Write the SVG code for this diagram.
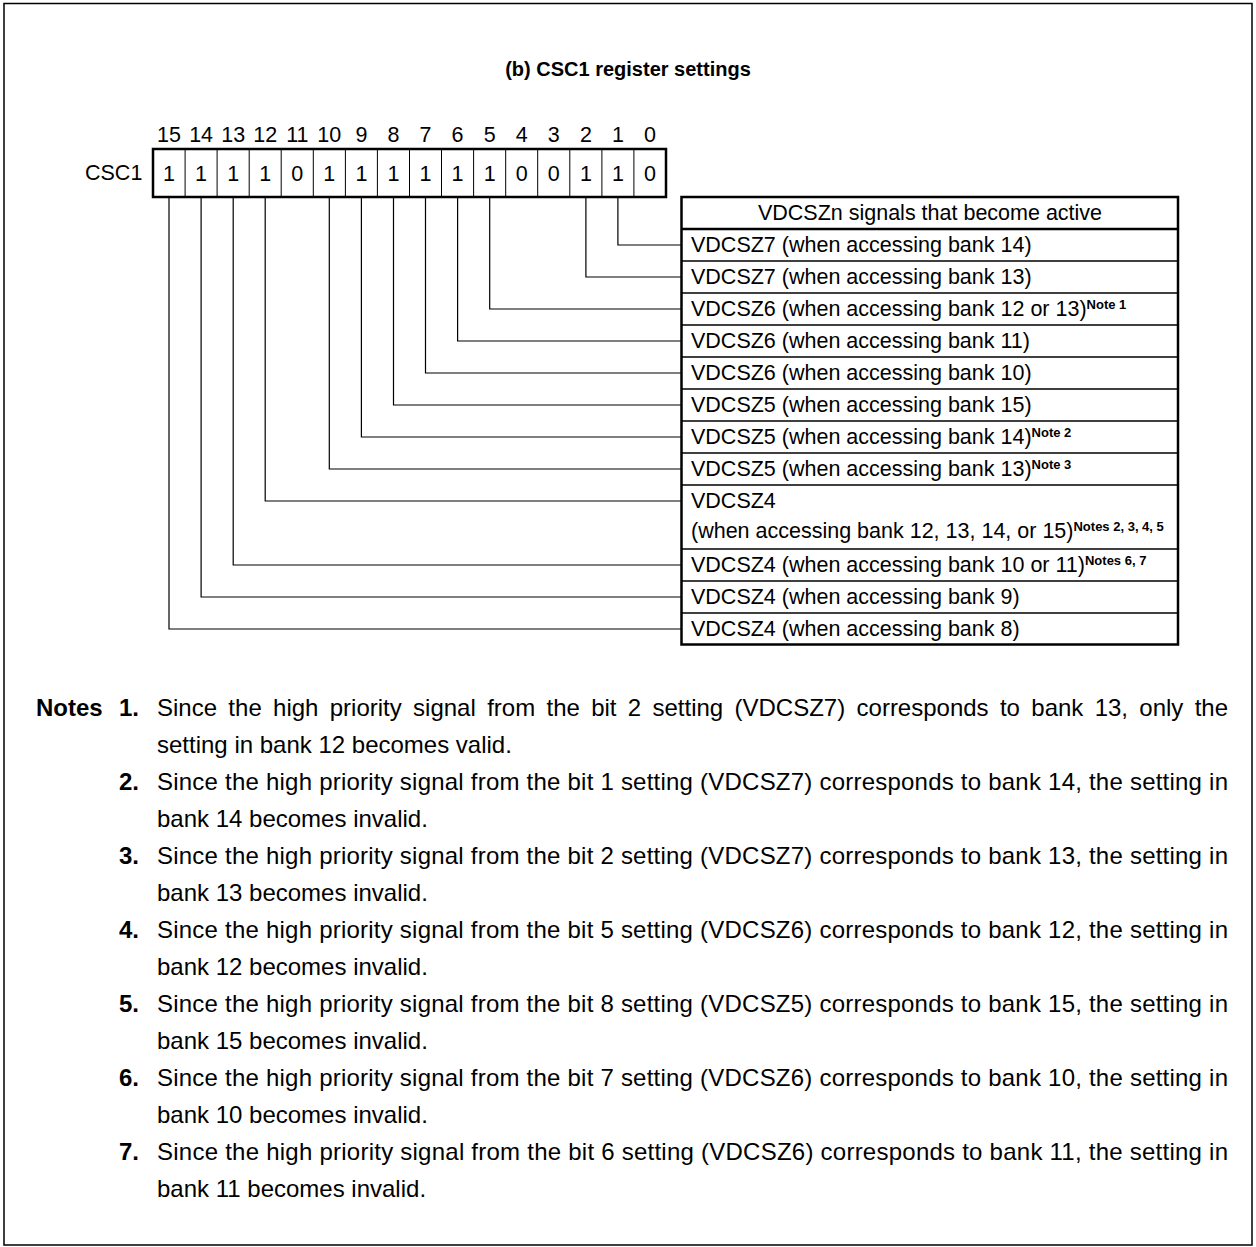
<svg xmlns="http://www.w3.org/2000/svg" width="1256" height="1247" viewBox="0 0 1256 1247">
<style>
  text { font-family: "Liberation Sans", Arial, Helvetica, sans-serif; fill: #000; }
  .t21 { font-size: 21.5px; }
  .ctr { text-anchor: middle; }
  .title { font-size: 20px; font-weight: bold; }
  .sup { font-size: 13px; font-weight: bold; }
  .note { font-size: 24px; }
  .nb { font-size: 24px; font-weight: bold; }
  .thick { fill: none; stroke: #000; stroke-width: 2.5; }
  .thin { fill: none; stroke: #000; stroke-width: 1; }
  .row { fill: none; stroke: #000; stroke-width: 1.6; }
  .conn { fill: none; stroke: #000; stroke-width: 1.2; }
</style>
<rect x="4" y="3.5" width="1248" height="1241.5" fill="#fff" stroke="#000" stroke-width="1.5"/>

<g id="title"><text class="title ctr" x="628" y="76">(b) CSC1 register settings</text></g>

<g id="register">
  <text class="t21" x="85" y="180">CSC1</text>
  <g class="t21 ctr">
    <text x="169" y="142">15</text><text x="201.1" y="142">14</text><text x="233.2" y="142">13</text><text x="265.2" y="142">12</text>
    <text x="297.3" y="142">11</text><text x="329.3" y="142">10</text><text x="361.4" y="142">9</text><text x="393.5" y="142">8</text>
    <text x="425.5" y="142">7</text><text x="457.6" y="142">6</text><text x="489.7" y="142">5</text><text x="521.7" y="142">4</text>
    <text x="553.8" y="142">3</text><text x="585.9" y="142">2</text><text x="617.9" y="142">1</text><text x="650" y="142">0</text>
  </g>
  <g class="t21 ctr">
    <text x="169" y="180.5">1</text><text x="201.1" y="180.5">1</text><text x="233.2" y="180.5">1</text><text x="265.2" y="180.5">1</text>
    <text x="297.3" y="180.5">0</text><text x="329.3" y="180.5">1</text><text x="361.4" y="180.5">1</text><text x="393.5" y="180.5">1</text>
    <text x="425.5" y="180.5">1</text><text x="457.6" y="180.5">1</text><text x="489.7" y="180.5">1</text><text x="521.7" y="180.5">0</text>
    <text x="553.8" y="180.5">0</text><text x="585.9" y="180.5">1</text><text x="617.9" y="180.5">1</text><text x="650" y="180.5">0</text>
  </g>
  <path class="thin" d="M185.1 149V197M217.1 149V197M249.2 149V197M281.2 149V197M313.3 149V197M345.4 149V197M377.4 149V197M409.5 149V197M441.5 149V197M473.6 149V197M505.7 149V197M537.7 149V197M569.8 149V197M601.9 149V197M633.9 149V197"/>
  <rect class="thick" x="153" y="149" width="513" height="48"/>
</g>

<g id="connectors">
  <path class="conn" d="M617.9 197V245H681.5"/>
  <path class="conn" d="M585.9 197V277H681.5"/>
  <path class="conn" d="M489.7 197V309H681.5"/>
  <path class="conn" d="M457.6 197V341H681.5"/>
  <path class="conn" d="M425.5 197V373H681.5"/>
  <path class="conn" d="M393.5 197V405H681.5"/>
  <path class="conn" d="M361.4 197V437H681.5"/>
  <path class="conn" d="M329.3 197V469H681.5"/>
  <path class="conn" d="M265.2 197V501H681.5"/>
  <path class="conn" d="M233.2 197V565H681.5"/>
  <path class="conn" d="M201.1 197V597H681.5"/>
  <path class="conn" d="M169 197V629H681.5"/>
</g>

<g id="signal-table">
  <path class="row" d="M681.5 261H1178M681.5 293H1178M681.5 325H1178M681.5 357H1178M681.5 389H1178M681.5 421H1178M681.5 453H1178M681.5 485H1178M681.5 549H1178M681.5 581H1178M681.5 613H1178"/>
  <path class="thick" d="M681.5 229H1178" stroke-width="2"/>
  <rect class="thick" x="681.5" y="197" width="496.5" height="447.5"/>
  <text class="t21 ctr" x="930" y="220">VDCSZn signals that become active</text>
  <text class="t21" x="691" y="252">VDCSZ7 (when accessing bank 14)</text>
  <text class="t21" x="691" y="284">VDCSZ7 (when accessing bank 13)</text>
  <text class="t21" x="691" y="316">VDCSZ6 (when accessing bank 12 or 13)<tspan class="sup" dy="-7">Note 1</tspan></text>
  <text class="t21" x="691" y="348">VDCSZ6 (when accessing bank 11)</text>
  <text class="t21" x="691" y="380">VDCSZ6 (when accessing bank 10)</text>
  <text class="t21" x="691" y="412">VDCSZ5 (when accessing bank 15)</text>
  <text class="t21" x="691" y="444">VDCSZ5 (when accessing bank 14)<tspan class="sup" dy="-7">Note 2</tspan></text>
  <text class="t21" x="691" y="476">VDCSZ5 (when accessing bank 13)<tspan class="sup" dy="-7">Note 3</tspan></text>
  <text class="t21" x="691" y="508">VDCSZ4</text>
  <text class="t21" x="691" y="538">(when accessing bank 12, 13, 14, or 15)<tspan class="sup" dy="-7">Notes 2, 3, 4, 5</tspan></text>
  <text class="t21" x="691" y="572">VDCSZ4 (when accessing bank 10 or 11)<tspan class="sup" dy="-7">Notes 6, 7</tspan></text>
  <text class="t21" x="691" y="604">VDCSZ4 (when accessing bank 9)</text>
  <text class="t21" x="691" y="636">VDCSZ4 (when accessing bank 8)</text>
</g>

<g id="notes">
  <text class="nb" x="36" y="716">Notes</text>
  <text class="nb" x="119" y="716">1.</text>
  <text class="note" x="157" y="716" word-spacing="4.66">Since the high priority signal from the bit 2 setting (VDCSZ7) corresponds to bank 13, only the</text>
  <text class="note" x="157" y="753">setting in bank 12 becomes valid.</text>
  <text class="nb" x="119" y="790">2.</text>
  <text class="note" x="157" y="790" textLength="1071" lengthAdjust="spacing">Since the high priority signal from the bit 1 setting (VDCSZ7) corresponds to bank 14, the setting in</text>
  <text class="note" x="157" y="827">bank 14 becomes invalid.</text>
  <text class="nb" x="119" y="864">3.</text>
  <text class="note" x="157" y="864" textLength="1071" lengthAdjust="spacing">Since the high priority signal from the bit 2 setting (VDCSZ7) corresponds to bank 13, the setting in</text>
  <text class="note" x="157" y="901">bank 13 becomes invalid.</text>
  <text class="nb" x="119" y="938">4.</text>
  <text class="note" x="157" y="938" textLength="1071" lengthAdjust="spacing">Since the high priority signal from the bit 5 setting (VDCSZ6) corresponds to bank 12, the setting in</text>
  <text class="note" x="157" y="975">bank 12 becomes invalid.</text>
  <text class="nb" x="119" y="1012">5.</text>
  <text class="note" x="157" y="1012" textLength="1071" lengthAdjust="spacing">Since the high priority signal from the bit 8 setting (VDCSZ5) corresponds to bank 15, the setting in</text>
  <text class="note" x="157" y="1049">bank 15 becomes invalid.</text>
  <text class="nb" x="119" y="1086">6.</text>
  <text class="note" x="157" y="1086" textLength="1071" lengthAdjust="spacing">Since the high priority signal from the bit 7 setting (VDCSZ6) corresponds to bank 10, the setting in</text>
  <text class="note" x="157" y="1123">bank 10 becomes invalid.</text>
  <text class="nb" x="119" y="1160">7.</text>
  <text class="note" x="157" y="1160" textLength="1071" lengthAdjust="spacing">Since the high priority signal from the bit 6 setting (VDCSZ6) corresponds to bank 11, the setting in</text>
  <text class="note" x="157" y="1197">bank 11 becomes invalid.</text>
</g>
</svg>
